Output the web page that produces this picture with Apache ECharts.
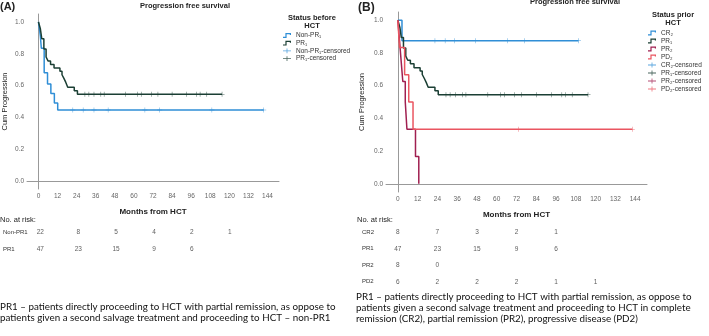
<!DOCTYPE html>
<html>
<head>
<meta charset="utf-8">
<script src="https://cdn.jsdelivr.net/npm/echarts@6/dist/echarts.min.js"></script>
<style>
  html, body { margin: 0; padding: 0; background: #fff; }
  #main { width: 709px; height: 336px; }
</style>
</head>
<body>
<div id="main"></div>
<script>
// 生存曲线 (Kaplan-Meier) 数据
const monthTicks = [0, 12, 24, 36, 48, 60, 72, 84, 96, 108, 120, 132, 144];
const survTicks = [0, 0.2, 0.4, 0.6, 0.8, 1.0];

const nonPR1Times = [0, 1.2, 1.8, 3.6, 5.7, 7.8, 10, 12.1, 141.6];
const nonPR1Surv = [1, 0.91, 0.835, 0.68, 0.61, 0.55, 0.49, 0.447, 0.447];
const nonPR1Censored = [21.6, 28.1, 34.9, 43.8, 66.9, 76.2, 109, 141.6];

const pr1Times = [0, 1.2, 2.1, 3.4, 4.8, 6, 7.6, 9.8, 13.5, 14.8, 16, 17.2, 18.4, 22.5, 24.5, 115.4];
const pr1Surv = [1, 0.957, 0.894, 0.83, 0.78, 0.755, 0.733, 0.71, 0.69, 0.668, 0.645, 0.62, 0.59, 0.568, 0.545, 0.545];
const pr1Censored = [29.2, 31.7, 34.9, 39.2, 41.3, 54.6, 62.4, 64.6, 70.9, 75.1, 84, 93.1, 99.5, 101.6, 105.8, 115.4];

const cr2Times = [0, 2.5, 109.6];
const cr2Surv = [1, 0.875, 0.875];
const cr2Censored = [22.5, 28.7, 34.4, 47.1, 66.6, 76.8, 109.6];

const pr2Times = [0, 1, 2, 3, 4.5, 5.5, 10.7, 12.7];
const pr2Surv = [1, 0.875, 0.75, 0.625, 0.5, 0.333, 0.167, 0];

const pd2Times = [0, 1, 4.1, 6.6, 9.2, 142.3];
const pd2Surv = [1, 0.833, 0.667, 0.5, 0.333, 0.333];
const pd2Censored = [73.3, 142.3];

// number at risk
const riskTimes = [0, 24, 48, 72, 96, 120];
const riskRowsA = ['Non-PR1', 'PR1'];
const riskNonPR1 = [22, 8, 5, 4, 2, 1];
const riskPR1 = [47, 23, 15, 9, 6];
const riskRowsB = ['CR2', 'PR1', 'PR2', 'PD2'];
const riskCR2 = [8, 7, 3, 2, 1];
const riskPR2 = [8, 0];
const riskPD2 = [6, 2, 2, 2, 1, 1];

const BLUE = '#2f8ed6';
const GREEN = '#1b3f34';
const CRIMSON = '#a01f50';
const RED = '#ea5560';
const FONT = 'Liberation Sans';

const stepIcon = 'path://M0,4.5H3V0H10V2.5H8.5V1.5H4.5V6H0Z';
const plusIcon = 'path://M0,2.5H10V3.5H0Z M4.5,0H5.5V6H4.5Z';
const plusMark = 'path://M0,4.5H10V5.5H0Z M4.5,0H5.5V10H4.5Z';

function zip(times, surv) {
  return times.map((t, i) => [t, surv[i]]);
}
function censorAt(times, times0, surv0) {
  // censored marks sit on the curve at the given time
  return times.map(t => {
    let v = surv0[0];
    for (let i = 0; i < times0.length; i++) {
      if (times0[i] <= t) v = surv0[i];
    }
    return [t, v];
  });
}
function riskData(row, values) {
  return values.map((n, i) => [riskTimes[i], row, n]);
}

function curve(name, color, times, surv, idx) {
  return {
    name: name, type: 'line', step: 'end', showSymbol: false,
    xAxisIndex: idx, yAxisIndex: idx,
    data: zip(times, surv),
    lineStyle: { color: color, width: 1.5 },
    itemStyle: { color: color },
    z: 3
  };
}
function censored(name, color, times, times0, surv0, idx) {
  return {
    name: name, type: 'scatter', symbol: plusMark, symbolSize: [5, 5],
    xAxisIndex: idx, yAxisIndex: idx,
    data: censorAt(times, times0, surv0),
    itemStyle: { color: color },
    z: 4
  };
}
function riskSeries(idx, data) {
  return {
    type: 'scatter', symbolSize: 0, xAxisIndex: idx, yAxisIndex: idx,
    data: data,
    label: {
      show: true, position: 'inside', formatter: p => p.value[2],
      fontSize: 6.5, color: '#333', fontFamily: FONT
    }
  };
}

const axisText = { color: '#666', fontSize: 6.5, fontFamily: FONT };
function mainX(gi) {
  return {
    gridIndex: gi, type: 'value', min: -7.2, max: 151.2,
    name: 'Months from HCT', nameLocation: 'middle', nameGap: 19,
    nameTextStyle: { fontSize: 8, fontWeight: 'bold', color: '#222', fontFamily: FONT },
    axisLine: { lineStyle: { color: '#999' } },
    axisTick: { show: false },
    splitLine: { show: false },
    axisLabel: Object.assign({ customValues: monthTicks, margin: 4 }, axisText)
  };
}
function mainY(gi, gap) {
  return {
    gridIndex: gi, type: 'value', min: -0.05, max: 1.05,
    name: 'Cum Progression', nameLocation: 'middle', nameGap: gap,
    nameTextStyle: { fontSize: 7.5, color: '#222', fontFamily: FONT },
    axisLine: { show: true, lineStyle: { color: '#999' } },
    axisTick: { show: false },
    splitLine: { show: false },
    axisLabel: Object.assign({ customValues: survTicks, margin: 3, formatter: v => v.toFixed(1) }, axisText)
  };
}
function riskX(gi) {
  return { gridIndex: gi, type: 'value', min: -7.2, max: 151.2, show: false };
}
function riskY(gi, rows, margin) {
  return {
    gridIndex: gi, type: 'category', data: rows, inverse: true,
    axisLine: { show: false }, axisTick: { show: false },
    axisLabel: { align: 'left', margin: margin, fontSize: 6, color: '#333', fontFamily: FONT }
  };
}

const chart = echarts.init(document.getElementById('main'), null, { renderer: 'canvas' });

const legendText = { fontSize: 6.5, lineHeight: 7, color: '#333', fontFamily: FONT };
const captionText = { fontSize: 9.8, lineHeight: 11, fontWeight: 'normal', color: '#111', fontFamily: 'Lato' };

const option = {
  animation: false,
  backgroundColor: '#fff',
  textStyle: { fontFamily: FONT },
  title: [
    { text: '(A)', left: 0, top: 1, padding: 0, textStyle: { fontSize: 11, fontWeight: 'bold', color: '#222' } },
    { text: 'Progression free survival', left: 185, top: 2, padding: 0, textAlign: 'center',
      textStyle: { fontSize: 7.5, fontWeight: 'bold', color: '#222' } },
    { text: 'Status before\nHCT', left: 312, top: 14, padding: 0, textAlign: 'center',
      textStyle: { fontSize: 7.5, fontWeight: 'bold', color: '#222', lineHeight: 8 } },
    { text: 'No. at risk:', left: 0, top: 216, padding: 0, textStyle: { fontSize: 7.5, fontWeight: 'normal', color: '#222' } },
    { text: 'PR1 – patients directly proceeding to HCT with partial remission, as oppose to\npatients given a second salvage treatment and proceeding to HCT – non-PR1',
      left: 0, top: 301, padding: 0, textStyle: captionText },

    { text: '(B)', left: 358, top: 2, padding: 0, textStyle: { fontSize: 12, fontWeight: 'bold', color: '#222' } },
    { text: 'Progression free survival', left: 575, top: -2, padding: 0, textAlign: 'center',
      textStyle: { fontSize: 7.5, fontWeight: 'bold', color: '#222' } },
    { text: 'Status prior\nHCT', left: 673, top: 11, padding: 0, textAlign: 'center',
      textStyle: { fontSize: 7.5, fontWeight: 'bold', color: '#222', lineHeight: 8 } },
    { text: 'No. at risk:', left: 357, top: 216, padding: 0, textStyle: { fontSize: 7.5, fontWeight: 'normal', color: '#222' } },
    { text: 'PR1 – patients directly proceeding to HCT with partial remission, as oppose to\npatients given a second salvage treatment and proceeding to HCT in complete\nremission (CR2), partial remission (PR2), progressive disease (PD2)',
      left: 356, top: 291, padding: 0, textStyle: captionText }
  ],
  legend: [
    {
      orient: 'vertical', left: 283, top: 32, padding: 0, itemGap: 0.7,
      itemWidth: 8, itemHeight: 5, selectedMode: false, textStyle: legendText,
      data: [
        { name: 'Non-PR₁', icon: stepIcon },
        { name: 'PR₁', icon: stepIcon },
        { name: 'Non-PR₁-censored', icon: plusIcon },
        { name: 'PR₁-censored', icon: plusIcon }
      ]
    },
    {
      orient: 'vertical', left: 648, top: 29.5, padding: 0, itemGap: 1,
      itemWidth: 8, itemHeight: 5, selectedMode: false, textStyle: legendText,
      data: [
        { name: 'CR₂', icon: stepIcon },
        { name: 'PR₁', icon: stepIcon },
        { name: 'PR₂', icon: stepIcon },
        { name: 'PD₂', icon: stepIcon },
        { name: 'CR₂-censored', icon: plusIcon },
        { name: 'PR₁-censored', icon: plusIcon },
        { name: 'PR₂-censored', icon: plusIcon },
        { name: 'PD₂-censored', icon: plusIcon }
      ]
    }
  ],
  grid: [
    { left: 27, top: 14, width: 252, height: 175 },
    { left: 386, top: 12, width: 261, height: 180 },
    { left: 27, top: 224, width: 252, height: 34 },
    { left: 386, top: 224, width: 261, height: 66 }
  ],
  xAxis: [mainX(0), mainX(1), riskX(2), riskX(3)],
  yAxis: [mainY(0, 18), mainY(1, 20), riskY(2, riskRowsA, 26), riskY(3, riskRowsB, 24)],
  series: [
    // panel A
    curve('Non-PR₁', BLUE, nonPR1Times, nonPR1Surv, 0),
    curve('PR₁', GREEN, pr1Times, pr1Surv, 0),
    censored('Non-PR₁-censored', BLUE, nonPR1Censored, nonPR1Times, nonPR1Surv, 0),
    censored('PR₁-censored', GREEN, pr1Censored, pr1Times, pr1Surv, 0),
    // panel B
    curve('CR₂', BLUE, cr2Times, cr2Surv, 1),
    curve('PR₁', GREEN, pr1Times, pr1Surv, 1),
    curve('PR₂', CRIMSON, pr2Times, pr2Surv, 1),
    curve('PD₂', RED, pd2Times, pd2Surv, 1),
    censored('CR₂-censored', BLUE, cr2Censored, cr2Times, cr2Surv, 1),
    censored('PR₁-censored', GREEN, pr1Censored, pr1Times, pr1Surv, 1),
    censored('PR₂-censored', CRIMSON, [], pr2Times, pr2Surv, 1),
    censored('PD₂-censored', RED, pd2Censored, pd2Times, pd2Surv, 1),
    // number at risk tables
    riskSeries(2, riskData('Non-PR1', riskNonPR1).concat(riskData('PR1', riskPR1))),
    riskSeries(3, riskData('CR2', riskCR2).concat(riskData('PR1', riskPR1), riskData('PR2', riskPR2), riskData('PD2', riskPD2)))
  ]
};

chart.setOption(option);
</script>
</body>
</html>
